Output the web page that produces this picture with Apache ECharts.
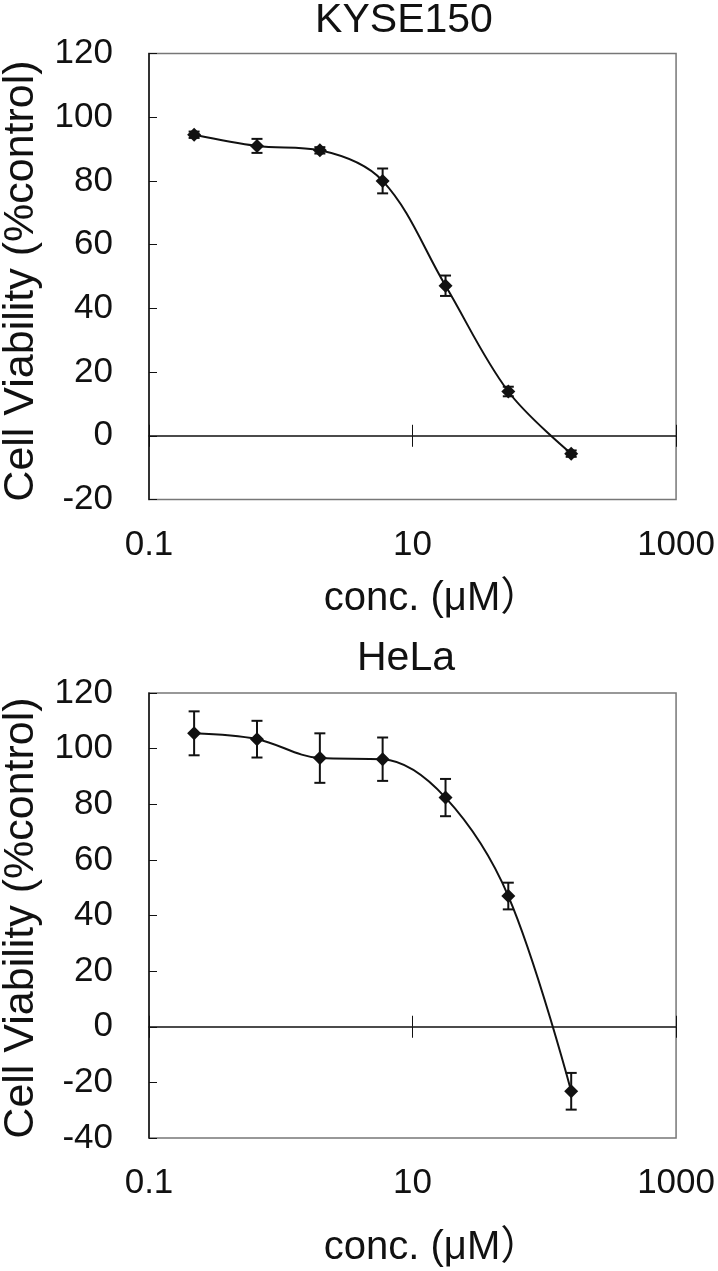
<!DOCTYPE html>
<html>
<head>
<meta charset="utf-8">
<script src="https://cdn.jsdelivr.net/npm/echarts@6/dist/echarts.min.js"></script>
<style>
html,body{margin:0;padding:0;background:#fff;}
#c{width:718px;height:1271px;}
</style>
</head>
<body>
<div id="c"></div>
<script>
// ---- data ----
const conc = [0.22, 0.66, 1.98, 5.93, 17.8, 53.3, 160];           // µM
const kyseMean = [94.5, 91.0, 89.6, 80.0, 47.1, 13.9, -5.6];
const kyseErr  = [1.0, 2.2, 1.0, 3.9, 3.2, 1.5, 1.0];
const helaMean = [105.5, 103.4, 96.6, 96.2, 82.4, 47.0, -23.2];
const helaErr  = [7.9, 6.6, 8.9, 7.8, 6.7, 4.8, 6.6];
const xTicks = [0.1, 10, 1000];
const titles = ['KYSE150', 'HeLa'];
const yTitle = 'Cell Viability (%control)';
const xTitle = 'conc. (μM）';

const FONT = "'Liberation Sans', Arial, 'Noto Sans CJK JP', sans-serif";
const chart = echarts.init(document.getElementById('c'), null, {renderer: 'canvas'});

function lineData(means) { return conc.map((c, i) => [c, means[i]]); }
function errData(means, errs) { return conc.map((c, i) => [c, means[i] - errs[i], means[i] + errs[i]]); }

function errRender(params, api) {
  const x = api.value(0);
  const lo = api.coord([x, api.value(1)]);
  const hi = api.coord([x, api.value(2)]);
  const w = 5.5;
  const st = {stroke: '#111', lineWidth: 2};
  return {
    type: 'group',
    children: [
      {type: 'line', shape: {x1: lo[0], y1: lo[1], x2: hi[0], y2: hi[1]}, style: st},
      {type: 'line', shape: {x1: lo[0] - w, y1: lo[1], x2: lo[0] + w, y2: lo[1]}, style: st},
      {type: 'line', shape: {x1: hi[0] - w, y1: hi[1], x2: hi[0] + w, y2: hi[1]}, style: st}
    ]
  };
}

const grids = [
  {left: 149, top: 53.5, right: 41, height: 446, show: true, borderColor: '#777', borderWidth: 1.5, backgroundColor: '#fff'},
  {left: 149, top: 693, right: 41, height: 445, show: true, borderColor: '#777', borderWidth: 1.5, backgroundColor: '#fff'}
];

function xAxesFor(gi) {
  const base = {type: 'log', logBase: 10, min: 0.1, max: 1000, gridIndex: gi, splitLine: {show: false}, minorTick: {show: false}};
  return [
    Object.assign({}, base, {
      position: 'bottom',
      axisLine: {show: false, onZero: false},
      axisTick: {show: false},
      axisLabel: {show: true, customValues: xTicks, margin: 28, fontSize: 35, fontFamily: FONT, color: '#111',
        formatter: v => String(v)}
    }),
    Object.assign({}, base, {
      position: 'bottom',
      axisLine: {show: true, onZero: true, onZeroAxisIndex: gi, lineStyle: {color: '#111', width: 1.5}},
      axisTick: {show: true, customValues: xTicks, length: 11, inside: false, lineStyle: {color: '#111', width: 1}},
      axisLabel: {show: false}
    }),
    Object.assign({}, base, {
      position: 'bottom',
      axisLine: {show: false, onZero: true, onZeroAxisIndex: gi},
      axisTick: {show: true, customValues: xTicks, length: 11, inside: true, lineStyle: {color: '#111', width: 1}},
      axisLabel: {show: false}
    })
  ];
}

function yAxisFor(gi, min) {
  return {
    type: 'value', gridIndex: gi, min: min, max: 120, interval: 20,
    axisLine: {show: true, onZero: false, lineStyle: {color: '#111', width: 1.5}},
    axisTick: {show: true, inside: true, length: 8, lineStyle: {color: '#111', width: 1}},
    axisLabel: {margin: 36, fontSize: 35, fontFamily: FONT, color: '#111'},
    splitLine: {show: false}
  };
}

function seriesFor(gi, means, errs) {
  const xi = gi * 3;
  return [
    {type: 'custom', xAxisIndex: xi, yAxisIndex: gi, data: errData(means, errs), renderItem: errRender,
     encode: {x: 0, y: [1, 2]}, z: 3, silent: true},
    {type: 'line', xAxisIndex: xi, yAxisIndex: gi, data: lineData(means), smooth: 0.35,
     symbol: 'diamond', symbolSize: 14, showSymbol: true,
     lineStyle: {color: '#111', width: 2}, itemStyle: {color: '#111'}, z: 4, silent: true, animation: false}
  ];
}

const txt = (x, y, text, size, rot) => ({
  type: 'text', x: x, y: y, rotation: rot || 0,
  style: {text: text, fill: '#111', font: size + 'px ' + FONT, textAlign: 'center', textVerticalAlign: 'middle'}
});

chart.setOption({
  animation: false,
  backgroundColor: '#fff',
  grid: grids,
  xAxis: xAxesFor(0).concat(xAxesFor(1)),
  yAxis: [yAxisFor(0, -20), yAxisFor(1, -40)],
  series: seriesFor(0, kyseMean, kyseErr).concat(seriesFor(1, helaMean, helaErr)),
  graphic: [
    txt(404, 21, titles[0], 41),
    txt(406, 659, titles[1], 41),
    txt(21, 281, yTitle, 43, Math.PI / 2),
    txt(21, 918, yTitle, 43, Math.PI / 2),
    txt(432, 599, xTitle, 40),
    txt(432, 1248, xTitle, 40)
  ]
});
</script>
</body>
</html>
